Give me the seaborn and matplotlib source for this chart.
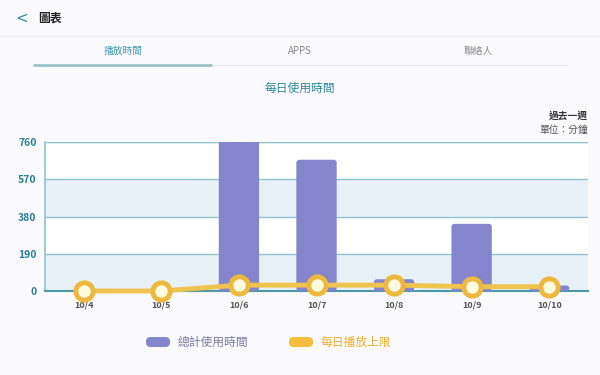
import matplotlib
matplotlib.use("Agg")
import matplotlib.pyplot as plt
import seaborn as sns
import pandas as pd
from matplotlib.patches import FancyBboxPatch
from matplotlib.lines import Line2D

dates = ["10/4", "10/5", "10/6", "10/7", "10/8", "10/9", "10/10"]
total_minutes = [0, 0, 790, 670, 60, 343, 28]
daily_limit = [0, 0, 30, 30, 30, 22, 22]
y_ticks = [0, 190, 380, 570, 760]

sns.set_theme(style="white")
plt.rcParams['font.family'] = ['Noto Sans CJK TC', 'DejaVu Sans']

df = pd.DataFrame({"date": dates, "total": total_minutes, "limit": daily_limit})

BG = "#FAFAFC"
BAR = "#8585CD"
fig = plt.figure(figsize=(6, 3.75), dpi=100, facecolor=BG)
ax = fig.add_axes([0.075, 0.224, 0.905, 0.397])
ax.set_facecolor("white")

sns.barplot(data=df, x="date", y="total", color=BAR, saturation=1,
            width=0.52, ax=ax, zorder=3)
# rounded tops
bars = list(ax.containers[0])
for p in bars:
    x, y, w, h = p.get_x(), p.get_y(), p.get_width(), p.get_height()
    p.set_visible(False)
    if h <= 0:
        continue
    fb = FancyBboxPatch((x, y), w, h, boxstyle="round,pad=0,rounding_size=0.04",
                        mutation_aspect=385, fc=BAR, ec="none", zorder=3)
    ax.add_patch(fb)

# bands
for i in range(len(y_ticks) - 1):
    if i % 2 == 0:
        ax.axhspan(y_ticks[i], y_ticks[i + 1], color="#E8F1F7", zorder=0, lw=0)

sns.lineplot(data=df, x="date", y="limit", color="#F0C24E", lw=3.5, ax=ax,
             zorder=5, sort=False,
             marker="o", markersize=12.5, markerfacecolor="#FFFBE0",
             markeredgecolor="#EDB83E", markeredgewidth=3.5)
for ln in ax.lines:
    ln.set_clip_on(False)

ax.set_xlim(-0.5, 6.5)
ax.set_ylim(0, 760)
ax.set_yticks(y_ticks)
ax.set_yticklabels([str(v) for v in y_ticks], color="#2B7F91",
                   fontweight="bold", fontsize=7.5)
ax.grid(axis="y", color="#92C3CF", lw=1, zorder=1)
ax.set_axisbelow(True)
ax.tick_params(axis="y", length=0, pad=6)
ax.tick_params(axis="x", length=0, pad=7, labelsize=6.5, labelcolor="#555555")
for lbl in ax.get_xticklabels():
    lbl.set_fontweight("bold")
ax.set_xlabel("")
ax.set_ylabel("")
for s in ["top", "right"]:
    ax.spines[s].set_visible(False)
ax.spines["left"].set_color("#92C3CF")
ax.spines["bottom"].set_color("#4E97A6")
ax.spines["bottom"].set_linewidth(1.5)
ax.spines["left"].set_linewidth(1.2)
ax.axhline(760, color="#92C3CF", lw=1, zorder=2)
ax.legend_ = None

# header UI
fig.text(15 / 600, 1 - 18 / 375, "<", fontsize=11, color="#3C8C9C", va="center",
         fontfamily="DejaVu Sans")
fig.text(38 / 600, 1 - 18 / 375, "圖表", fontsize=8.5, color="#222222",
         va="center", fontweight="bold")
fig.add_artist(Line2D([0, 1], [1 - 36 / 375] * 2, color="#EEEEEE", lw=1))
fig.text(123 / 600, 1 - 51 / 375, "播放時間", fontsize=7, color="#3C9CAA",
         ha="center", va="center")
fig.text(300 / 600, 1 - 51 / 375, "APPS", fontsize=7, color="#888888",
         ha="center", va="center")
fig.text(478 / 600, 1 - 51 / 375, "聯絡人", fontsize=7, color="#888888",
         ha="center", va="center")
fig.add_artist(Line2D([34 / 600, 567 / 600], [1 - 65 / 375] * 2,
                      color="#EAEAEA", lw=1))
fig.add_artist(Line2D([34 / 600, 211 / 600], [1 - 65 / 375] * 2,
                      color="#9CC3C8", lw=2))
fig.text(300 / 600, 1 - 88 / 375, "每日使用時間", fontsize=8.5, color="#2B8A99",
         ha="center", va="center")
fig.text(588 / 600, 1 - 116 / 375, "過去一週", fontsize=7, color="#333333",
         ha="right", va="center", fontweight="bold")
fig.text(588 / 600, 1 - 130 / 375, "單位：分鐘", fontsize=7, color="#555555",
         ha="right", va="center")

# legend
for x0, col, txt, tcol in [(146, BAR, "總計使用時間", "#7A7A9E"),
                           (289, "#F5BE3E", "每日播放上限", "#E8AE32")]:
    fig.add_artist(FancyBboxPatch((x0 / 600, 1 - 347 / 375), 24 / 600, 10 / 375,
                                  boxstyle="round,pad=0,rounding_size=0.0075",
                                  mutation_aspect=1.6,
                                  transform=fig.transFigure, fc=col, ec="none"))
    fig.text((x0 + 32) / 600, 1 - 342 / 375, txt, fontsize=8.5, color=tcol,
             va="center")

fig.savefig("out.png", dpi=100, facecolor=BG)
